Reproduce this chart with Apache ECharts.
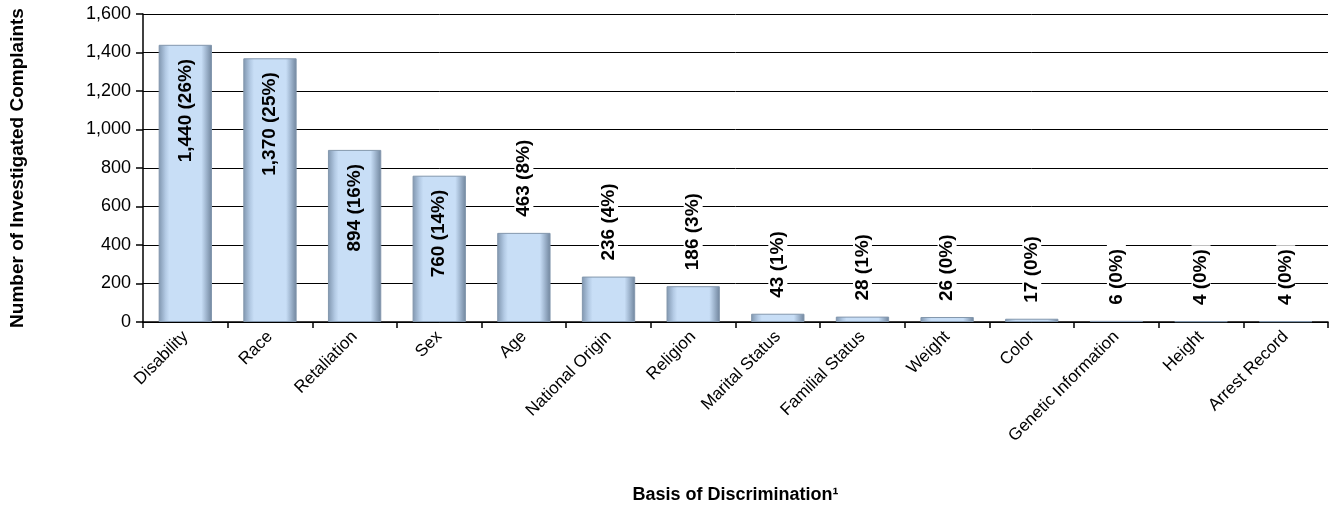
<!DOCTYPE html>
<html>
<head>
    <meta charset="utf-8">
    <title>Basis of Discrimination</title>
    <script src="https://cdn.jsdelivr.net/npm/echarts@6/dist/echarts.min.js"></script>
    <style>
        html, body { margin: 0; padding: 0; background: #fff; }
        #main { width: 1330px; height: 516px; }
    </style>
</head>
<body>
<div id="main"></div>
<script type="text/javascript">
    // 数据
    var categories = ['Disability', 'Race', 'Retaliation', 'Sex', 'Age', 'National Origin', 'Religion',
        'Marital Status', 'Familial Status', 'Weight', 'Color', 'Genetic Information', 'Height', 'Arrest Record'];
    var complaints = [1440, 1370, 894, 760, 463, 236, 186, 43, 28, 26, 17, 6, 4, 4];
    var percents = [26, 25, 16, 14, 8, 4, 3, 1, 1, 0, 0, 0, 0, 0];
    var yTicks = [0, 200, 400, 600, 800, 1000, 1200, 1400, 1600];

    // 前四个标签在柱内，其余在柱外
    var insideCount = 4;

    var barColor = {
        type: 'linear', x: 0, y: 0, x2: 1, y2: 0,
        colorStops: [
            { offset: 0, color: '#7f95ae' },
            { offset: 0.13, color: '#b3cae4' },
            { offset: 0.2, color: '#c8def6' },
            { offset: 0.8, color: '#c8def6' },
            { offset: 0.87, color: '#a9bfd8' },
            { offset: 1, color: '#6f849c' }
        ]
    };

    function fmt(v) {
        return v.toString().replace(/\B(?=(\d{3})+(?!\d))/g, ',');
    }

    var seriesData = complaints.map(function (v, i) {
        var inside = i < insideCount;
        return {
            value: v,
            label: inside ? {
                position: 'insideTop',
                align: 'right',
                verticalAlign: 'middle',
                distance: 14
            } : {
                position: 'top',
                align: 'left',
                verticalAlign: 'middle',
                distance: 12,
                backgroundColor: '#fff',
                padding: [0, 4]
            }
        };
    });

    var myChart = echarts.init(document.getElementById('main'));

    var option = {
        backgroundColor: '#FFFFFF',
        animation: false,
        textStyle: { fontFamily: 'Liberation Sans, Arial, sans-serif' },
        grid: { left: 136, right: 2, top: 14, bottom: 194, containLabel: false },
        xAxis: {
            type: 'category',
            data: categories,
            name: 'Basis of Discrimination\u00b9',
            nameLocation: 'middle',
            nameGap: 164,
            nameTextStyle: { fontSize: 18, fontWeight: 'bold', color: '#000' },
            axisLine: { lineStyle: { color: '#000', width: 1.5 } },
            axisTick: { show: true, length: 6, lineStyle: { color: '#000', width: 1.5 } },
            axisLabel: { rotate: 45, fontSize: 17, color: '#000', margin: 12, interval: 0 }
        },
        yAxis: {
            type: 'value',
            min: yTicks[0],
            max: yTicks[yTicks.length - 1],
            interval: 200,
            name: 'Number of Investigated Complaints',
            nameLocation: 'middle',
            nameGap: 116,
            nameTextStyle: { fontSize: 19, fontWeight: 'bold', color: '#000' },
            axisLine: { show: true, lineStyle: { color: '#000', width: 1.5 } },
            axisTick: { show: true, length: 7, lineStyle: { color: '#000', width: 1.5 } },
            axisLabel: {
                fontSize: 18, color: '#000', margin: 12,
                formatter: function (v) { return fmt(v); }
            },
            splitLine: { lineStyle: { color: '#000', width: 1 } }
        },
        series: [{
            name: 'Complaints',
            type: 'bar',
            barWidth: '63%',
            data: seriesData,
            itemStyle: {
                color: barColor,
                borderColor: '#8397ad',
                borderWidth: 1
            },
            label: {
                show: true,
                rotate: 90,
                fontSize: 19,
                fontWeight: 'bold',
                color: '#000',
                formatter: function (p) {
                    return fmt(p.value) + ' (' + percents[p.dataIndex] + '%)';
                }
            }
        }]
    };

    myChart.setOption(option);
</script>
</body>
</html>
